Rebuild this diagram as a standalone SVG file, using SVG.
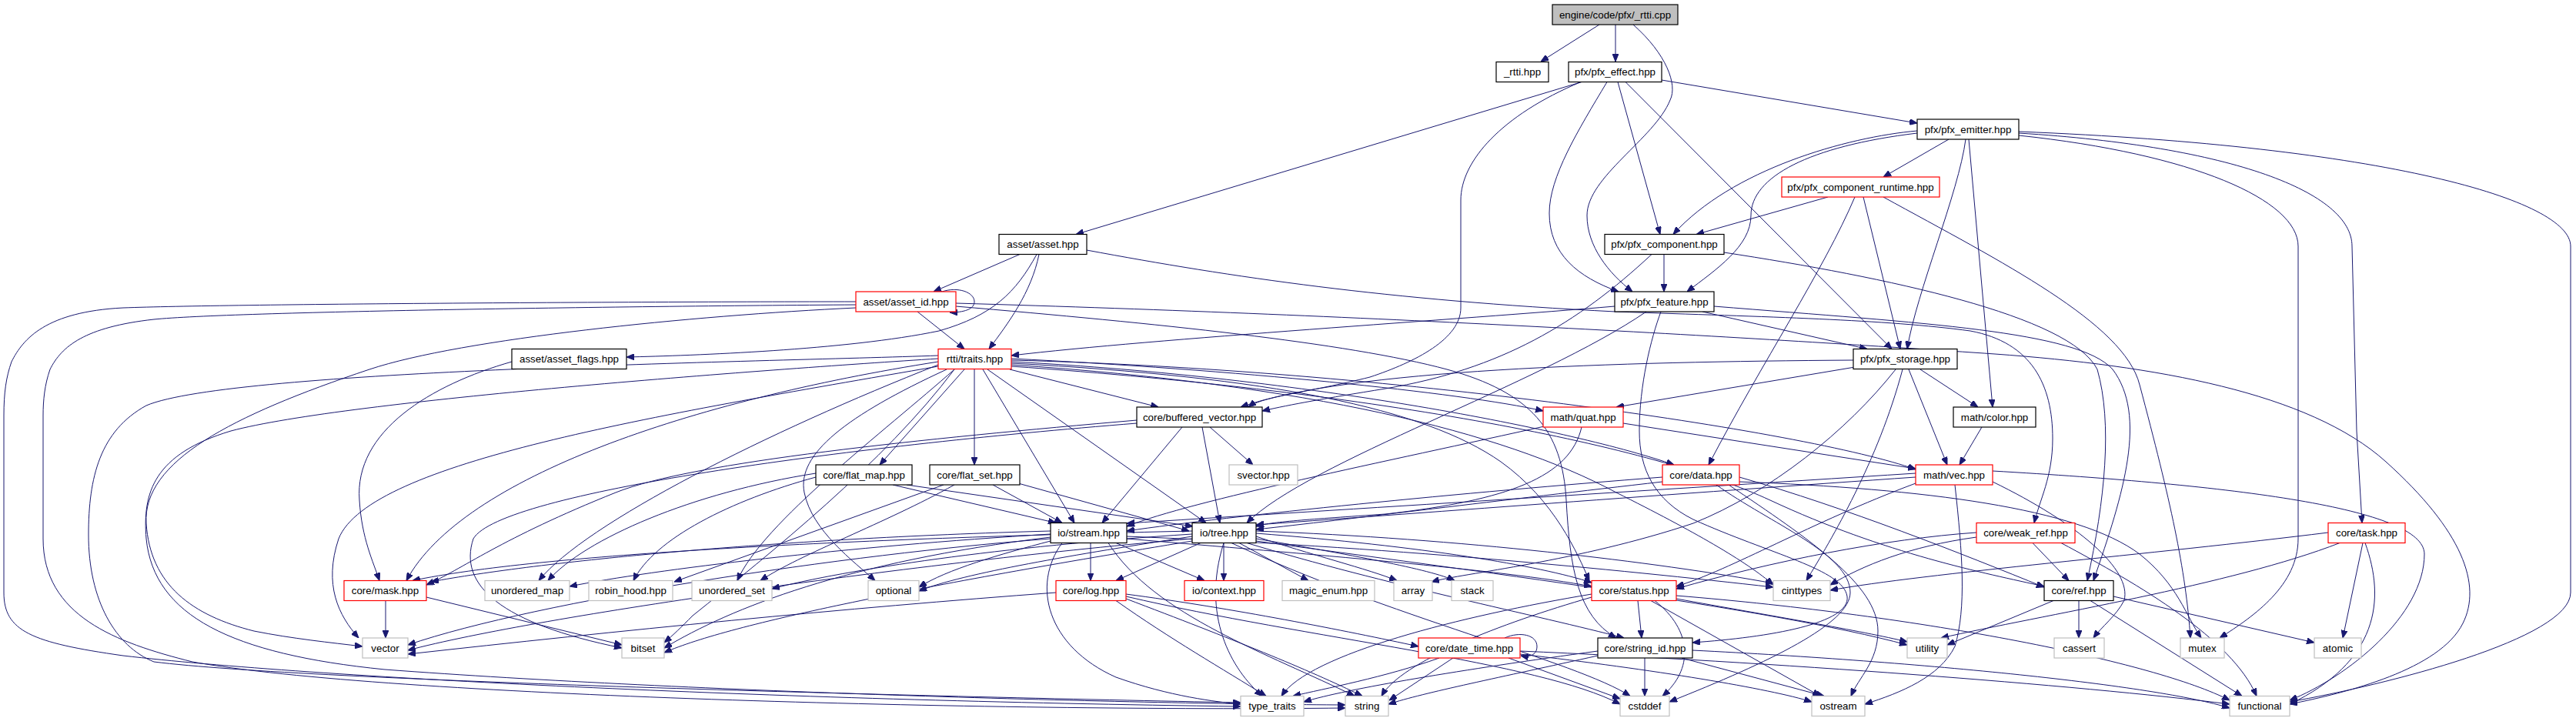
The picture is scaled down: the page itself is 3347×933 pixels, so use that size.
<svg xmlns="http://www.w3.org/2000/svg" width="3347" height="933" viewBox="0 0 3347 933">
<style>
.n rect{fill:#fff;stroke-width:1.2}
.nb rect{stroke:#000}
.ng rect{stroke:#bfbfbf}
.nr rect{stroke:#ff0000}
.n text{font-family:"Liberation Sans",Arial,Helvetica,sans-serif;font-size:13.33px;text-anchor:middle;fill:#000}
.e{fill:none;stroke:#191970;stroke-width:1;marker-end:url(#ah)}
</style>
<defs>
<marker id="ah" viewBox="0 0 10 8" refX="10" refY="4" markerWidth="10" markerHeight="8" markerUnits="userSpaceOnUse" orient="auto">
<path d="M0,0 L10,4 L0,8 z" fill="#191970" stroke="#191970"/>
</marker>
</defs>
<rect width="3347" height="933" fill="#fff"/>
<g id="edges">
<path class="e" d="M2078,32 L2002,80"/>
<path class="e" d="M2099,32 L2099,80"/>
<path class="e" d="M2122,32 C2165,70 2180,110 2170,130 C2150,180 2062,230 2062,280 C2062,320 2090,355 2121,379"/>
<path class="e" d="M2055,106.5 L1398,304.5"/>
<path class="e" d="M2054,106.5 C1950,150 1898,210 1898,260 L1898,400 C1898,440 1840,470 1780,490 C1700,510 1640,515 1622,529"/>
<path class="e" d="M2088,106.5 C2050,170 2013,230 2013,277 C2013,330 2050,360 2103,379"/>
<path class="e" d="M2102,106.5 L2157,304.5"/>
<path class="e" d="M2112,106.5 L2458,453.5"/>
<path class="e" d="M2159,104 L2491,160"/>
<path class="e" d="M2491,170 C2400,178 2250,220 2174,304.5"/>
<path class="e" d="M2491,173 C2350,190 2275,230 2275,280 C2275,320 2230,350 2192,379"/>
<path class="e" d="M2532,181 L2447,230"/>
<path class="e" d="M2554,181 C2545,250 2490,380 2478,453.5"/>
<path class="e" d="M2558,181 L2589,529"/>
<path class="e" d="M2623,176 C2850,200 2986,260 2986,320 L2986,700 C2986,760 2930,800 2884,829"/>
<path class="e" d="M2623,173 C2900,190 3056,250 3056,320 L3062,560 L3069,679.5"/>
<path class="e" d="M2623,171 C3100,190 3340,260 3340,320 L3340,770 C3340,830 3100,890 2975,912"/>
<path class="e" d="M2375,256 L2204,304.5"/>
<path class="e" d="M2421,256 L2469,453.5"/>
<path class="e" d="M2410,256 C2370,350 2290,470 2220,604"/>
<path class="e" d="M2447,256 C2600,340 2760,420 2780,500 C2820,650 2840,740 2846,829"/>
<path class="e" d="M2162,330.5 L2162,379"/>
<path class="e" d="M2146,330.5 C2050,420 1950,480 1800,505 C1720,518 1680,525 1640,534"/>
<path class="e" d="M2240,328 C2450,360 2690,410 2725,480 C2745,550 2735,650 2712,754.5"/>
<path class="e" d="M2212,405 L2426,453.5"/>
<path class="e" d="M2098,398 C1900,415 1500,440 1314,462"/>
<path class="e" d="M2139,405 C2000,500 1700,600 1620,679.5"/>
<path class="e" d="M2158,405 C2145,440 2130,500 2130,560 C2130,610 2150,650 2200,675 C2300,720 2395,740 2400,775 C2405,810 2300,828 2199,835"/>
<path class="e" d="M2227,398 C2500,420 2700,430 2745,480 C2790,540 2760,640 2720,754.5"/>
<path class="e" d="M1325,330.5 L1213,379"/>
<path class="e" d="M1350,330.5 C1340,380 1310,420 1285,453.5"/>
<path class="e" d="M1347,330.5 C1320,380 1290,410 1220,430 C1100,455 900,462 814,464"/>
<path class="e" d="M1412,325 C1600,360 1800,390 2099,405 C2300,412 2450,415 2560,430 C2640,445 2667,500 2667,570 C2667,620 2650,650 2643,679.5"/>
<path class="e" d="M1224,379 C1245,372 1266,380 1266,392 C1266,402 1252,406 1234,406"/>
<path class="e" d="M1192,405 L1253,453.5"/>
<path class="e" d="M1112,392 C800,392 300,395 160,400 C60,405 30,440 15,470 C8,490 5,510 5,540 L5,770 C5,820 40,835 160,852 C400,880 1000,910 1612,918"/>
<path class="e" d="M1112,396 C800,398 300,405 200,415 C110,425 80,450 65,480 C58,500 56,520 56,540 L56,700 C56,800 150,835 250,860 C500,905 1300,925 1748,920"/>
<path class="e" d="M1112,400 C900,410 600,440 480,480 C300,540 185,600 190,680 C195,760 250,800 330,820 C380,830 430,835 471,840"/>
<path class="e" d="M1242,398 C1500,420 1750,445 1880,480 C1990,510 2030,560 2035,650 C2040,740 2050,800 2100,829"/>
<path class="e" d="M1242,394 C1800,410 2300,440 2592,460 C2800,475 3000,510 3100,600 C3200,690 3225,760 3200,810 C3170,870 3050,900 2975,915"/>
<path class="e" d="M1312,480 L1505,529"/>
<path class="e" d="M1253,480 L1143,604"/>
<path class="e" d="M1266,480 L1266,604"/>
<path class="e" d="M1277,480 L1396,679.5"/>
<path class="e" d="M1283,480 L1567,679.5"/>
<path class="e" d="M1314,466 C1600,480 1900,510 2005,534"/>
<path class="e" d="M1314,470 C1700,490 2050,560 2175,604"/>
<path class="e" d="M1314,468 C1800,480 2350,560 2489,610"/>
<path class="e" d="M1314,472 C1650,490 1850,530 1950,600 C2020,650 2050,720 2065,754.5"/>
<path class="e" d="M1314,474 C1700,500 1950,560 2100,640 C2200,690 2270,730 2304,760"/>
<path class="e" d="M1314,476 C1800,510 2150,580 2300,650 C2450,720 2580,745 2656,762"/>
<path class="e" d="M1219,470 C900,520 600,620 528,754.5"/>
<path class="e" d="M1219,474 C1000,560 760,680 700,754.5"/>
<path class="e" d="M1240,480 C1150,560 990,680 958,754.5"/>
<path class="e" d="M1230,480 C1100,540 1035,590 1045,640 C1055,690 1110,730 1137,754.5"/>
<path class="e" d="M1219,476 C850,540 480,600 440,700 C420,760 440,800 466,829"/>
<path class="e" d="M1219,462 C1000,470 300,480 190,527 C130,560 115,620 115,695 C115,780 150,840 200,860 C400,885 1200,905 1612,913"/>
<path class="e" d="M1219,466 C1000,480 450,520 300,560 C200,590 185,640 190,700 C200,800 300,850 500,870 C900,900 1500,915 1748,916"/>
<path class="e" d="M1240,480 C1150,600 1000,720 900,800 C885,815 875,825 863,835"/>
<path class="e" d="M665,470 C560,500 460,560 467,650 C470,700 485,730 493,754.5"/>
<path class="e" d="M2408,468 C2100,470 1750,480 1612,529"/>
<path class="e" d="M2410,477 L2100,529"/>
<path class="e" d="M2480,480 L2530,604"/>
<path class="e" d="M2495,480 L2570,529"/>
<path class="e" d="M2472,480 C2440,600 2380,700 2347,754.5"/>
<path class="e" d="M2463,480 C2400,560 2300,640 2200,680 C2050,730 1900,745 1860,756"/>
<path class="e" d="M1536,555 L1432,679.5"/>
<path class="e" d="M1562,555 L1585,679.5"/>
<path class="e" d="M1572,555 L1628,604"/>
<path class="e" d="M1477,546 C1200,570 900,600 800,640 C650,700 600,740 554,760"/>
<path class="e" d="M1477,550 C1100,580 650,640 615,700 C595,760 650,810 808,842"/>
<path class="e" d="M2109,550 L2489,609"/>
<path class="e" d="M2011,553 C1800,600 1550,650 1464,684"/>
<path class="e" d="M2055,555 C2040,620 1960,650 1800,668 C1700,675 1650,678 1632,684"/>
<path class="e" d="M2575,555 L2546,604"/>
<path class="e" d="M1160,630 L1372,679.5"/>
<path class="e" d="M1178,630 L1550,684"/>
<path class="e" d="M1060,620 C950,650 850,700 823,754.5"/>
<path class="e" d="M1060,615 C900,640 760,700 712,754.5"/>
<path class="e" d="M1290,630 L1380,679.5"/>
<path class="e" d="M1323,628 L1545,690"/>
<path class="e" d="M1240,630 C1150,680 1040,720 988,754.5"/>
<path class="e" d="M1226,630 L876,756"/>
<path class="e" d="M2160,620 C1900,640 1600,670 1464,690"/>
<path class="e" d="M2160,626 C1950,650 1750,675 1632,688"/>
<path class="e" d="M2230,630 C2300,680 2404,720 2404,770 C2404,810 2300,860 2169,912"/>
<path class="e" d="M2246,630 C2350,700 2440,760 2440,820 C2440,860 2415,880 2405,904.5"/>
<path class="e" d="M2260,620 C2400,660 2550,720 2656,763"/>
<path class="e" d="M2260,626 C2500,635 2700,660 2780,720 C2830,760 2840,800 2860,829"/>
<path class="e" d="M2489,615 C2100,640 1700,665 1464,680"/>
<path class="e" d="M2489,620 C2200,640 1800,670 1632,682"/>
<path class="e" d="M2489,628 C2350,680 2250,740 2178,762"/>
<path class="e" d="M2589,612 C2900,630 3150,660 3150,720 C3150,800 3050,880 2975,910"/>
<path class="e" d="M2589,626 C2700,680 2770,740 2760,780 C2750,800 2730,815 2720,829"/>
<path class="e" d="M2540,630 C2550,720 2555,790 2540,840 C2520,880 2470,900 2423,915"/>
<path class="e" d="M2641,705.5 L2688,754.5"/>
<path class="e" d="M2678,705.5 C2780,760 2900,830 2932,904.5"/>
<path class="e" d="M2568,692 C2450,700 2300,730 2178,765"/>
<path class="e" d="M2568,698 C2480,710 2420,735 2378,760"/>
<path class="e" d="M3073,705.5 C3100,780 3090,860 2975,915"/>
<path class="e" d="M3070,705.5 L3044,829"/>
<path class="e" d="M3025,692 C2800,720 2500,745 2378,767"/>
<path class="e" d="M3040,705.5 C2900,760 2650,800 2522,829"/>
<path class="e" d="M2701,780.5 L2701,829"/>
<path class="e" d="M2716,780.5 L2913,904.5"/>
<path class="e" d="M2746,775 L3007,835"/>
<path class="e" d="M2668,780.5 L2530,838"/>
<path class="e" d="M1417,705.5 L1417,754.5"/>
<path class="e" d="M1450,705.5 L1565,754.5"/>
<path class="e" d="M1365,690 C1000,700 700,730 560,756"/>
<path class="e" d="M1365,694 C1100,710 850,740 740,762"/>
<path class="e" d="M1365,700 C1100,720 700,780 530,838"/>
<path class="e" d="M1365,703 C1300,720 1230,740 1194,763"/>
<path class="e" d="M1464,700 C1700,720 1950,740 2068,762"/>
<path class="e" d="M1464,697 C1800,710 2100,740 2304,763"/>
<path class="e" d="M1440,705.5 C1500,800 1650,850 1760,904.5"/>
<path class="e" d="M1380,705.5 C1340,760 1360,840 1450,880 C1520,905 1580,912 1612,915"/>
<path class="e" d="M1365,698 C1100,730 950,790 863,842"/>
<path class="e" d="M1560,705.5 L1450,754.5"/>
<path class="e" d="M1590,705.5 L1590,754.5"/>
<path class="e" d="M1610,705.5 L1700,754.5"/>
<path class="e" d="M1632,697 C1700,720 1780,740 1815,754.5"/>
<path class="e" d="M1632,700 C1750,720 1860,740 1890,754.5"/>
<path class="e" d="M1632,693 C1850,710 2000,735 2068,757"/>
<path class="e" d="M1632,690 C1900,700 2150,730 2304,758"/>
<path class="e" d="M1549,697 C1400,720 1250,745 1194,768"/>
<path class="e" d="M1549,694 C1300,710 1100,740 1003,765"/>
<path class="e" d="M1549,690 C1100,700 700,720 536,754.5"/>
<path class="e" d="M1549,700 C1200,730 700,800 530,845"/>
<path class="e" d="M1620,705.5 C1800,760 2000,800 2110,829"/>
<path class="e" d="M1600,705.5 C1800,800 2050,860 2118,904.5"/>
<path class="e" d="M1632,703 C1900,740 2300,790 2478,838"/>
<path class="e" d="M1590,705.5 C1560,800 1600,870 1640,904.5"/>
<path class="e" d="M1549,703 C1200,760 950,810 863,848"/>
<path class="e" d="M1463,772 C1600,790 1750,820 1843,840"/>
<path class="e" d="M1450,780.5 C1520,830 1590,870 1645,904.5"/>
<path class="e" d="M1372,770 C1100,790 800,820 530,850"/>
<path class="e" d="M1463,778 C1600,830 1700,870 1770,904.5"/>
<path class="e" d="M1463,775 C1700,830 2000,860 2105,915"/>
<path class="e" d="M2128,780.5 L2133,829"/>
<path class="e" d="M2150,780.5 C2200,820 2200,870 2160,904.5"/>
<path class="e" d="M2145,780.5 L2365,904.5"/>
<path class="e" d="M2068,772 C1900,800 1700,850 1665,904.5"/>
<path class="e" d="M2068,776 C1950,810 1820,860 1795,904.5"/>
<path class="e" d="M2178,774 C2500,800 2800,860 2897,910"/>
<path class="e" d="M2178,778 C2300,800 2420,820 2478,834"/>
<path class="e" d="M1955,829 C1975,820 1997,825 1997,840 C1997,852 1986,854 1976,852"/>
<path class="e" d="M1870,855 C1800,880 1720,895 1680,904.5"/>
<path class="e" d="M1888,855 L1805,910"/>
<path class="e" d="M1960,855 L2105,908"/>
<path class="e" d="M1975,850 C2150,870 2300,895 2354,912"/>
<path class="e" d="M1975,846 C2300,860 2700,890 2897,915"/>
<path class="e" d="M2137,855 L2137,904.5"/>
<path class="e" d="M2076,846 C1900,870 1750,895 1694,912"/>
<path class="e" d="M2076,852 C1950,880 1850,900 1804,915"/>
<path class="e" d="M2185,855 L2370,904.5"/>
<path class="e" d="M2199,845 C2500,860 2800,890 2897,920"/>
<path class="e" d="M501,780.5 L501,829"/>
<path class="e" d="M554,776 L808,838"/>
</g>
<g id="n_engine" class="n nb"><rect x="2017" y="6" width="163" height="26" style="fill:#bfbfbf"/><text x="2098.5" y="23.7">engine/code/pfx/_rtti.cpp</text></g>
<g id="n_rtti_hpp" class="n nb"><rect x="1944" y="80.5" width="68" height="26"/><text x="1978" y="98.2">_rtti.hpp</text></g>
<g id="n_pfx_effect" class="n nb"><rect x="2038" y="80.5" width="121" height="26"/><text x="2098.5" y="98.2">pfx/pfx_effect.hpp</text></g>
<g id="n_pfx_emitter" class="n nb"><rect x="2491" y="155" width="132" height="26"/><text x="2557" y="172.7">pfx/pfx_emitter.hpp</text></g>
<g id="n_pfx_component_runtime" class="n nr"><rect x="2315" y="230" width="205" height="26"/><text x="2417.5" y="247.7">pfx/pfx_component_runtime.hpp</text></g>
<g id="n_asset" class="n nb"><rect x="1298" y="304.5" width="114" height="26"/><text x="1355" y="322.2">asset/asset.hpp</text></g>
<g id="n_pfx_component" class="n nb"><rect x="2085" y="304.5" width="155" height="26"/><text x="2162.5" y="322.2">pfx/pfx_component.hpp</text></g>
<g id="n_asset_id" class="n nr"><rect x="1112" y="379" width="130" height="26"/><text x="1177" y="396.7">asset/asset_id.hpp</text></g>
<g id="n_pfx_feature" class="n nb"><rect x="2098" y="379" width="129" height="26"/><text x="2162.5" y="396.7">pfx/pfx_feature.hpp</text></g>
<g id="n_asset_flags" class="n nb"><rect x="665" y="453.5" width="149" height="26"/><text x="739.5" y="471.2">asset/asset_flags.hpp</text></g>
<g id="n_traits" class="n nr"><rect x="1219" y="453.5" width="95" height="26"/><text x="1266.5" y="471.2">rtti/traits.hpp</text></g>
<g id="n_pfx_storage" class="n nb"><rect x="2408" y="453.5" width="135" height="26"/><text x="2475.5" y="471.2">pfx/pfx_storage.hpp</text></g>
<g id="n_buffered_vector" class="n nb"><rect x="1477" y="529" width="163" height="26"/><text x="1558.5" y="546.7">core/buffered_vector.hpp</text></g>
<g id="n_quat" class="n nr"><rect x="2005" y="529" width="104" height="26"/><text x="2057" y="546.7">math/quat.hpp</text></g>
<g id="n_color" class="n nb"><rect x="2538" y="529" width="107" height="26"/><text x="2591.5" y="546.7">math/color.hpp</text></g>
<g id="n_flat_map" class="n nb"><rect x="1060" y="604" width="125" height="26"/><text x="1122.5" y="621.7">core/flat_map.hpp</text></g>
<g id="n_flat_set" class="n nb"><rect x="1208" y="604" width="117" height="26"/><text x="1266.5" y="621.7">core/flat_set.hpp</text></g>
<g id="n_svector" class="n ng"><rect x="1597" y="604" width="89" height="26"/><text x="1641.5" y="621.7">svector.hpp</text></g>
<g id="n_data" class="n nr"><rect x="2160" y="604" width="100" height="26"/><text x="2210" y="621.7">core/data.hpp</text></g>
<g id="n_vec" class="n nr"><rect x="2489" y="604" width="100" height="26"/><text x="2539" y="621.7">math/vec.hpp</text></g>
<g id="n_stream" class="n nb"><rect x="1365" y="679.5" width="99" height="26"/><text x="1414.5" y="697.2">io/stream.hpp</text></g>
<g id="n_tree" class="n nb"><rect x="1549" y="679.5" width="83" height="26"/><text x="1590.5" y="697.2">io/tree.hpp</text></g>
<g id="n_weak_ref" class="n nr"><rect x="2568" y="679.5" width="128" height="26"/><text x="2632" y="697.2">core/weak_ref.hpp</text></g>
<g id="n_task" class="n nr"><rect x="3025" y="679.5" width="100" height="26"/><text x="3075" y="697.2">core/task.hpp</text></g>
<g id="n_mask" class="n nr"><rect x="447" y="754.5" width="107" height="26"/><text x="500.5" y="772.2">core/mask.hpp</text></g>
<g id="n_unordered_map" class="n ng"><rect x="630" y="754.5" width="110" height="26"/><text x="685" y="772.2">unordered_map</text></g>
<g id="n_robin_hood" class="n ng"><rect x="765" y="754.5" width="109" height="26"/><text x="819.5" y="772.2">robin_hood.hpp</text></g>
<g id="n_unordered_set" class="n ng"><rect x="899" y="754.5" width="104" height="26"/><text x="951" y="772.2">unordered_set</text></g>
<g id="n_optional" class="n ng"><rect x="1128" y="754.5" width="66" height="26"/><text x="1161" y="772.2">optional</text></g>
<g id="n_log" class="n nr"><rect x="1372" y="754.5" width="91" height="26"/><text x="1417.5" y="772.2">core/log.hpp</text></g>
<g id="n_context" class="n nr"><rect x="1539" y="754.5" width="103" height="26"/><text x="1590.5" y="772.2">io/context.hpp</text></g>
<g id="n_magic_enum" class="n ng"><rect x="1666" y="754.5" width="120" height="26"/><text x="1726" y="772.2">magic_enum.hpp</text></g>
<g id="n_array" class="n ng"><rect x="1811" y="754.5" width="50" height="26"/><text x="1836" y="772.2">array</text></g>
<g id="n_stack" class="n ng"><rect x="1886" y="754.5" width="54" height="26"/><text x="1913" y="772.2">stack</text></g>
<g id="n_status" class="n nr"><rect x="2068" y="754.5" width="110" height="26"/><text x="2123" y="772.2">core/status.hpp</text></g>
<g id="n_cinttypes" class="n ng"><rect x="2304" y="754.5" width="74" height="26"/><text x="2341" y="772.2">cinttypes</text></g>
<g id="n_ref" class="n nb"><rect x="2656" y="754.5" width="90" height="26"/><text x="2701" y="772.2">core/ref.hpp</text></g>
<g id="n_vector" class="n ng"><rect x="471" y="829" width="59" height="26"/><text x="500.5" y="846.7">vector</text></g>
<g id="n_bitset" class="n ng"><rect x="808" y="829" width="55" height="26"/><text x="835.5" y="846.7">bitset</text></g>
<g id="n_date_time" class="n nr"><rect x="1843" y="829" width="132" height="26"/><text x="1909" y="846.7">core/date_time.hpp</text></g>
<g id="n_string_id" class="n nb"><rect x="2076" y="829" width="123" height="26"/><text x="2137.5" y="846.7">core/string_id.hpp</text></g>
<g id="n_utility" class="n ng"><rect x="2478" y="829" width="52" height="26"/><text x="2504" y="846.7">utility</text></g>
<g id="n_cassert" class="n ng"><rect x="2669" y="829" width="65" height="26"/><text x="2701.5" y="846.7">cassert</text></g>
<g id="n_mutex" class="n ng"><rect x="2833" y="829" width="57" height="26"/><text x="2861.5" y="846.7">mutex</text></g>
<g id="n_atomic" class="n ng"><rect x="3007" y="829" width="61" height="26"/><text x="3037.5" y="846.7">atomic</text></g>
<g id="n_type_traits" class="n ng"><rect x="1612" y="904.5" width="82" height="26"/><text x="1653" y="922.2">type_traits</text></g>
<g id="n_string" class="n ng"><rect x="1748" y="904.5" width="56" height="26"/><text x="1776" y="922.2">string</text></g>
<g id="n_cstddef" class="n ng"><rect x="2105" y="904.5" width="64" height="26"/><text x="2137" y="922.2">cstddef</text></g>
<g id="n_ostream" class="n ng"><rect x="2354" y="904.5" width="69" height="26"/><text x="2388.5" y="922.2">ostream</text></g>
<g id="n_functional" class="n ng"><rect x="2897" y="904.5" width="78" height="26"/><text x="2936" y="922.2">functional</text></g>
</svg>
